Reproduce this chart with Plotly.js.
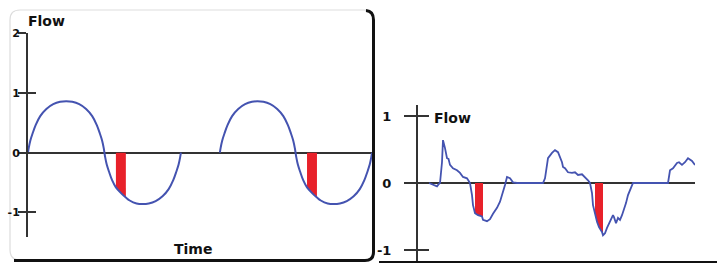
<!DOCTYPE html>
<html>
<head>
<meta charset="utf-8">
<script src="https://cdn.plot.ly/plotly-3.0.1.min.js"></script>
<style>html,body{margin:0;padding:0;background:#fff;}#chart{width:717px;height:263px;}</style>
</head>
<body>
<div id="chart"></div>
<script>
// ---- Left panel: idealised flow waveform (time in arbitrary units) ----
const leftTime = [0, 0.01, 0.03, 0.06, 0.1, 0.16, 0.24, 0.33, 0.42, 0.5, 0.58, 0.67, 0.76, 0.84, 0.9, 0.94, 0.97, 0.99, 1.0,
                  1.01, 1.03, 1.06, 1.1, 1.15, 1.22, 1.28, 1.33, 1.42, 1.5, 1.58, 1.67, 1.76, 1.84, 1.9, 1.94, 1.97, 1.99, 2.0,
                  null,
                  2.51, 2.52, 2.54, 2.57, 2.61, 2.67, 2.75, 2.84, 2.93, 3.0, 3.08, 3.17, 3.26, 3.34, 3.4, 3.44, 3.47, 3.49, 3.5,
                  3.51, 3.53, 3.56, 3.6, 3.65, 3.72, 3.78, 3.83, 3.92, 4.0, 4.08, 4.17, 4.26, 4.34, 4.4, 4.44, 4.47, 4.49, 4.5];
const leftFlow = [0, 0.08, 0.2, 0.32, 0.46, 0.61, 0.73, 0.81, 0.85, 0.86, 0.85, 0.81, 0.73, 0.61, 0.46, 0.32, 0.2, 0.08, 0,
                  -0.08, -0.2, -0.32, -0.46, -0.58, -0.68, -0.75, -0.8, -0.85, -0.86, -0.85, -0.81, -0.73, -0.61, -0.46, -0.32, -0.2, -0.08, 0,
                  null,
                  0, 0.08, 0.2, 0.32, 0.46, 0.61, 0.73, 0.81, 0.85, 0.86, 0.85, 0.81, 0.73, 0.61, 0.46, 0.32, 0.2, 0.08, 0,
                  -0.08, -0.2, -0.32, -0.46, -0.58, -0.68, -0.75, -0.8, -0.85, -0.86, -0.85, -0.81, -0.73, -0.61, -0.46, -0.32, -0.2, -0.08, 0];
const leftRedWindows = [[1.15, 1.28], [3.65, 3.78]];
const leftTickVals = [-1, 0, 1, 2];
const leftTickText = ['-1', '0', '1', '2'];

// ---- Right panel: measured flow trace ----
const rightTime = [0.44, 0.6, 0.76, 0.82, 0.88, 0.96, 1.0, 1.08, 1.16, 1.22, 1.28, 1.4, 1.56, 1.68, 1.8, 1.96,
                   2.08, 2.16, 2.2, 2.28, 2.4, 2.56, 2.6, 2.76, 2.88, 3.0, 3.16, 3.28, 3.4, 3.48, 3.56, 3.68, 3.8, 3.96,
                   5.0, 5.08, 5.16, 5.2, 5.36, 5.48, 5.6, 5.68, 5.76, 5.8, 5.88, 6.0, 6.16, 6.28, 6.4, 6.56, 6.68, 6.8,
                   6.88, 6.96, 7.0, 7.08, 7.16, 7.24, 7.36, 7.4, 7.48, 7.56, 7.68, 7.8, 7.84, 7.92, 8.0, 8.08, 8.16,
                   8.24, 8.32, 8.4, 8.52, 8.6,
                   10.0, 10.08, 10.2, 10.36, 10.44, 10.56, 10.68, 10.8, 10.96, 11.08];
const rightFlow = [0, -0.03, -0.05, -0.02, 0.0, 0.31, 0.64, 0.52, 0.37, 0.36, 0.27, 0.22, 0.19, 0.15, 0.09, 0.07,
                   0.0, -0.18, -0.33, -0.45, -0.48, -0.5, -0.55, -0.57, -0.54, -0.46, -0.37, -0.28, -0.15, -0.03, 0.09, 0.07, 0.01, 0,
                   0, 0.07, 0.27, 0.37, 0.45, 0.49, 0.46, 0.39, 0.31, 0.24, 0.22, 0.16, 0.15, 0.16, 0.12, 0.13, 0.09, 0.04,
                   0, -0.15, -0.33, -0.48, -0.58, -0.66, -0.73, -0.78, -0.75, -0.67, -0.58, -0.48, -0.51, -0.6, -0.52, -0.55, -0.48,
                   -0.4, -0.3, -0.18, -0.06, 0,
                   0, 0.19, 0.22, 0.3, 0.31, 0.27, 0.31, 0.37, 0.33, 0.27];
const rightRedWindows = [[2.28, 2.6], [7.08, 7.4]];
const rightTickVals = [-1, 0, 1];
const rightTickText = ['-1', '0', '1'];

const BLUE = '#4453b0';
const RED = '#e8212a';
const AX = '#333333';
const FONT = 'DejaVu Sans';
const W = 717, H = 263;
const px = v => v / W;
const py = v => 1 - v / H;

function redTraces(t, f, windows, xa, ya) {
  return windows.map(([a, b]) => {
    const xs = [], ys = [];
    t.forEach((v, i) => { if (v !== null && v >= a - 1e-9 && v <= b + 1e-9) { xs.push(v); ys.push(f[i]); } });
    return {x: xs, y: ys, xaxis: xa, yaxis: ya, type: 'scatter', mode: 'none',
            fill: 'tozeroy', fillcolor: RED, hoverinfo: 'skip', showlegend: false};
  });
}

const traces = [
  ...redTraces(leftTime, leftFlow, leftRedWindows, 'x', 'y'),
  {x: leftTime, y: leftFlow, xaxis: 'x', yaxis: 'y', type: 'scatter', mode: 'lines',
   line: {color: BLUE, width: 2, shape: 'spline', smoothing: 1}, connectgaps: false, showlegend: false},
  ...redTraces(rightTime, rightFlow, rightRedWindows, 'x2', 'y2'),
  {x: rightTime, y: rightFlow, xaxis: 'x2', yaxis: 'y2', type: 'scatter', mode: 'lines',
   line: {color: BLUE, width: 1.8}, showlegend: false},
  {x: [], y: [], xaxis: 'x', yaxis: 'y3', type: 'scatter', showlegend: false},
  {x: [], y: [], xaxis: 'x2', yaxis: 'y4', type: 'scatter', showlegend: false}
];

const leftYRange = [-1.41, 2];
const rightYRange = [-1.194, 1.164];
const tickFontL = {family: FONT, size: 11, color: '#111', weight: 'bold'};
const tickFontR = {family: FONT, size: 13, color: '#111', weight: 'bold'};

const hiddenX = {showgrid: false, zeroline: false, showline: false, showticklabels: false, ticks: ''};

const layout = {
  width: W, height: H,
  margin: {l: 0, r: 0, t: 0, b: 0, pad: 0},
  paper_bgcolor: '#fff', plot_bgcolor: 'rgba(0,0,0,0)',
  showlegend: false,
  xaxis: Object.assign({domain: [px(28), px(372)], range: [0, 4.5], anchor: 'y'}, hiddenX),
  yaxis: {domain: [1 - 237 / H, 1 - 33 / H], range: leftYRange, anchor: 'x',
          showgrid: false, zeroline: true, zerolinecolor: AX, zerolinewidth: 2,
          showline: true, linecolor: AX, linewidth: 2,
          ticks: 'outside', ticklen: 8, tickwidth: 2, tickcolor: AX,
          tickmode: 'array', tickvals: leftTickVals, ticktext: leftTickText,
          tickfont: tickFontL, ticklabelstandoff: -4},
  yaxis3: {overlaying: 'y', anchor: 'x', side: 'left', range: leftYRange,
           showgrid: false, zeroline: false, showline: false, showticklabels: false,
           ticks: 'inside', ticklen: 8, tickwidth: 2, tickcolor: AX,
           tickmode: 'array', tickvals: leftTickVals},
  xaxis2: Object.assign({domain: [px(418), px(695)], range: [0, 11.08], anchor: 'y2'}, hiddenX),
  yaxis2: {domain: [0, 1 - 105 / H], range: rightYRange, anchor: 'x2',
           showgrid: false, zeroline: true, zerolinecolor: AX, zerolinewidth: 2,
           showline: true, linecolor: AX, linewidth: 2,
           ticks: 'outside', ticklen: 12, tickwidth: 2, tickcolor: AX,
           tickmode: 'array', tickvals: rightTickVals, ticktext: rightTickText,
           tickfont: tickFontR, ticklabelstandoff: 10},
  yaxis4: {overlaying: 'y2', anchor: 'x2', side: 'left', range: rightYRange,
           showgrid: false, zeroline: false, showline: false, showticklabels: false,
           ticks: 'inside', ticklen: 11, tickwidth: 2, tickcolor: AX,
           tickmode: 'array', tickvals: rightTickVals},
  annotations: [
    {text: '<b>Flow</b>', xref: 'paper', yref: 'paper', x: px(26), y: py(21), xanchor: 'left', yanchor: 'middle',
     showarrow: false, font: {family: FONT, size: 14, color: '#111'}},
    {text: '<b>Time</b>', xref: 'paper', yref: 'paper', x: px(192.5), y: py(249), xanchor: 'center', yanchor: 'middle',
     showarrow: false, font: {family: FONT, size: 14, color: '#111'}},
    {text: '<b>Flow</b>', xref: 'paper', yref: 'paper', x: px(432), y: py(118), xanchor: 'left', yanchor: 'middle',
     showarrow: false, font: {family: FONT, size: 14, color: '#111'}}
  ],
  shapes: [
    {type: 'path', xref: 'paper', yref: 'paper', layer: 'below',
     path: `M ${px(20)},${py(10)} L ${px(364)},${py(10)} Q ${px(374)},${py(10)} ${px(374)},${py(20)} ` +
           `L ${px(374)},${py(250)} Q ${px(374)},${py(260)} ${px(364)},${py(260)} L ${px(20)},${py(260)} ` +
           `Q ${px(10)},${py(260)} ${px(10)},${py(250)} L ${px(10)},${py(20)} Q ${px(10)},${py(10)} ${px(20)},${py(10)} Z`,
     line: {color: '#dddddd', width: 1.2}},
    {type: 'path', xref: 'paper', yref: 'paper', layer: 'above',
     path: `M ${px(366)},${py(10.5)} Q ${px(373.5)},${py(11)} ${px(373.5)},${py(20)} L ${px(373.5)},${py(252)} ` +
           `Q ${px(373.5)},${py(260.5)} ${px(365)},${py(260.5)} L ${px(14)},${py(260.5)}`,
     line: {color: '#111', width: 3}},
    {type: 'line', xref: 'paper', yref: 'paper', layer: 'above',
     x0: px(379), x1: 1, y0: py(262), y1: py(262), line: {color: '#111', width: 2}}
  ]
};

Plotly.newPlot('chart', traces, layout, {displayModeBar: false, staticPlot: true});
</script>
</body>
</html>
